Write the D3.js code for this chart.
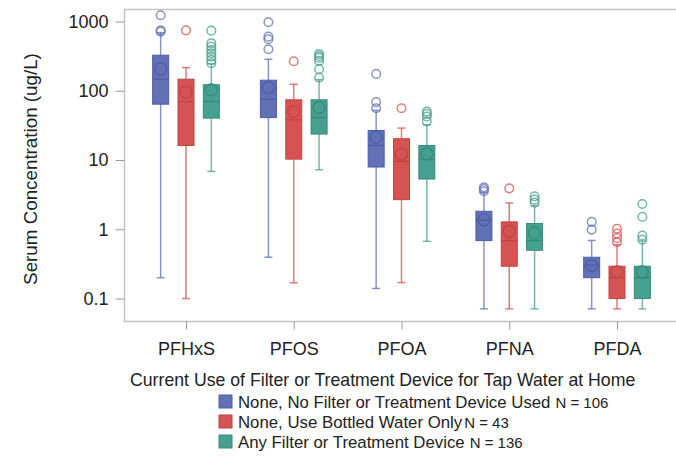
<!DOCTYPE html>
<html>
<head>
<meta charset="utf-8">
<script src="https://cdn.jsdelivr.net/npm/d3@7"></script>
<style>
  body { margin: 0; background: #fff; }
  text { font-family: "Liberation Sans", Arial, sans-serif; fill: #222; }
</style>
</head>
<body>
<script>
// chemicals on the x axis
var chemicals = ["PFHxS", "PFOS", "PFOA", "PFNA", "PFDA"];

var groups = ["None, No Filter or Treatment Device Used", "None, Use Bottled Water Only", "Any Filter or Treatment Device"];
var groupN = ["N = 106", "N = 43", "N = 136"];

// per chemical: [whiskerLow, q1, median, q3, whiskerHigh, mean]
var noFilterStats = [
  [0.2, 64, 147, 326, 690, 207],
  [0.395, 41, 75.7, 142, 285, 111],
  [0.14, 7.93, 16.2, 26.7, 52, 21.4],
  [0.071, 0.687, 1.35, 1.82, 3.4, 1.37],
  [0.071, 0.2, 0.303, 0.395, 0.69, 0.3]
];
var bottledStats = [
  [0.1, 16.2, 70, 147, 216, 95.5],
  [0.169, 10.3, 38, 74, 124, 50],
  [0.17, 2.68, 9.55, 20.3, 28.9, 12.1],
  [0.071, 0.293, 0.687, 1.28, 2.4, 0.935],
  [0.071, 0.1, 0.2, 0.293, 0.6, 0.243]
];
var anyFilterStats = [
  [6.86, 40.3, 70, 122, 244, 103],
  [7.24, 23.7, 41, 74, 145, 57.3],
  [0.67, 5.32, 10.1, 16.2, 32.3, 12.3],
  [0.071, 0.498, 0.687, 1.21, 2.2, 0.887],
  [0.071, 0.1, 0.2, 0.293, 0.68, 0.243]
];

// outliers per chemical
var noFilterOutliers = [[1230, 745, 715], [974, 604, 555, 398], [175, 68.6, 56], [4.03, 3.8, 3.55], [1.28, 0.99]];
var bottledOutliers = [[745], [267], [56], [3.9], [1.02, 0.867, 0.751, 0.65]];
var anyFilterOutliers = [
  [737, 486, 434, 388, 348, 311, 279, 250],
  [340, 318, 298, 270, 205, 155],
  [50, 46.4, 42.5, 36],
  [2.99, 2.68, 2.43],
  [2.32, 1.51, 0.81, 0.71]
];

var yTicks = [0.1, 1, 10, 100, 1000];

var fills = ["#6270b5", "#d65353", "#45a08f"];
var edges = ["#4d5ca8", "#c04444", "#358a7a"];

var allStats = [noFilterStats, bottledStats, anyFilterStats];
var allOutliers = [noFilterOutliers, bottledOutliers, anyFilterOutliers];

var W = 676, H = 457;
var plot = { left: 124.5, right: 700, top: 9.5, bottom: 321.5 };

var svg = d3.select("body").append("svg")
  .attr("width", W)
  .attr("height", H);

var y = d3.scaleLog()
  .domain([Math.pow(10, -1.331), Math.pow(10, 3.173)])
  .range([plot.bottom, plot.top]);

var x = d3.scalePoint()
  .domain(chemicals)
  .range([186, 617]);

var inner = d3.scaleBand()
  .domain(d3.range(groups.length))
  .range([-38, 38]);

var boxW = 16;

// frame
svg.append("path")
  .attr("d", "M" + plot.right + "," + plot.top + "H" + plot.left + "V" + plot.bottom + "H" + plot.right)
  .attr("fill", "none")
  .attr("stroke", "#c4c4c4")
  .attr("stroke-width", 1.5);

// y axis
var yAxis = svg.append("g")
  .attr("transform", "translate(" + plot.left + ",0)")
  .call(d3.axisLeft(y).tickValues(yTicks).tickFormat(d3.format("~g")).tickSize(9).tickPadding(7));
yAxis.select(".domain").remove();
yAxis.selectAll("line").attr("stroke", "#999");
yAxis.selectAll("text").style("font-size", "18px").style("font-family", "Liberation Sans, Arial").attr("fill", "#222");

svg.append("text")
  .attr("transform", "translate(37,169) rotate(-90)")
  .attr("text-anchor", "middle")
  .style("font-size", "18.8px")
  .text("Serum Concentration (ug/L)");

// x axis
var xAxis = svg.append("g")
  .attr("transform", "translate(0," + plot.bottom + ")")
  .call(d3.axisBottom(x).tickSize(8).tickPadding(13));
xAxis.select(".domain").remove();
xAxis.selectAll("line").attr("stroke", "#999");
xAxis.selectAll("text").style("font-size", "18px").style("font-family", "Liberation Sans, Arial").attr("fill", "#222");

// boxes
groups.forEach(function(g, gi) {
  var layer = svg.append("g").attr("class", "group" + gi);
  var stats = allStats[gi];
  chemicals.forEach(function(c, ci) {
    var s = stats[ci];
    var cx = x(c) + inner(gi) + inner.bandwidth() / 2;
    var box = layer.append("g");

    // whiskers
    box.append("line")
      .attr("x1", cx).attr("x2", cx)
      .attr("y1", y(s[0])).attr("y2", y(s[1]))
      .attr("stroke", fills[gi]).attr("stroke-opacity", 0.75).attr("stroke-width", 1.5);
    box.append("line")
      .attr("x1", cx).attr("x2", cx)
      .attr("y1", y(s[3])).attr("y2", y(s[4]))
      .attr("stroke", fills[gi]).attr("stroke-opacity", 0.75).attr("stroke-width", 1.5);
    [s[0], s[4]].forEach(function(v) {
      box.append("line")
        .attr("x1", cx - 4).attr("x2", cx + 4)
        .attr("y1", y(v)).attr("y2", y(v))
        .attr("stroke", fills[gi]).attr("stroke-opacity", 0.75).attr("stroke-width", 1.5);
    });

    // box
    box.append("rect")
      .attr("x", cx - boxW / 2)
      .attr("y", y(s[3]))
      .attr("width", boxW)
      .attr("height", y(s[1]) - y(s[3]))
      .attr("fill", fills[gi])
      .attr("stroke", edges[gi])
      .attr("stroke-width", 1);

    // median
    box.append("line")
      .attr("x1", cx - boxW / 2).attr("x2", cx + boxW / 2)
      .attr("y1", y(s[2])).attr("y2", y(s[2]))
      .attr("stroke", edges[gi]).attr("stroke-width", 1.3);

    // mean
    box.append("circle")
      .attr("cx", cx).attr("cy", y(s[5]))
      .attr("r", 6)
      .attr("fill", "none")
      .attr("stroke", edges[gi])
      .attr("stroke-width", 1.3);

    // outliers
    box.selectAll(".outlier")
      .data(allOutliers[gi][ci])
      .enter()
      .append("circle")
      .attr("class", "outlier")
      .attr("cx", cx)
      .attr("cy", function(d) { return y(d); })
      .attr("r", 4.3)
      .attr("fill", "none")
      .attr("stroke", fills[gi])
      .attr("stroke-opacity", 0.75)
      .attr("stroke-width", 1.5);
  });
});

// legend
svg.append("text")
  .attr("x", 130)
  .attr("y", 386)
  .style("font-size", "17.7px")
  .text("Current Use of Filter or Treatment Device for Tap Water at Home");

var legend = svg.append("g")
  .selectAll(".item")
  .data(groups)
  .enter()
  .append("g")
  .attr("class", "item")
  .attr("transform", function(d, i) { return "translate(219," + (395 + i * 20) + ")"; });

legend.append("rect")
  .attr("width", 13)
  .attr("height", 13)
  .attr("fill", function(d, i) { return fills[i]; })
  .attr("stroke", function(d, i) { return edges[i]; })
  .attr("stroke-width", 1);

var labels = legend.append("text")
  .attr("x", 19)
  .attr("y", 12.5)
  .style("font-size", "16.8px");
labels.append("tspan").text(function(d) { return d; });
labels.append("tspan")
  .attr("dx", function(d, i) { return i == 1 ? 2 : 5; })
  .style("font-size", "15px")
  .text(function(d, i) { return groupN[i]; });
</script>
</body>
</html>
